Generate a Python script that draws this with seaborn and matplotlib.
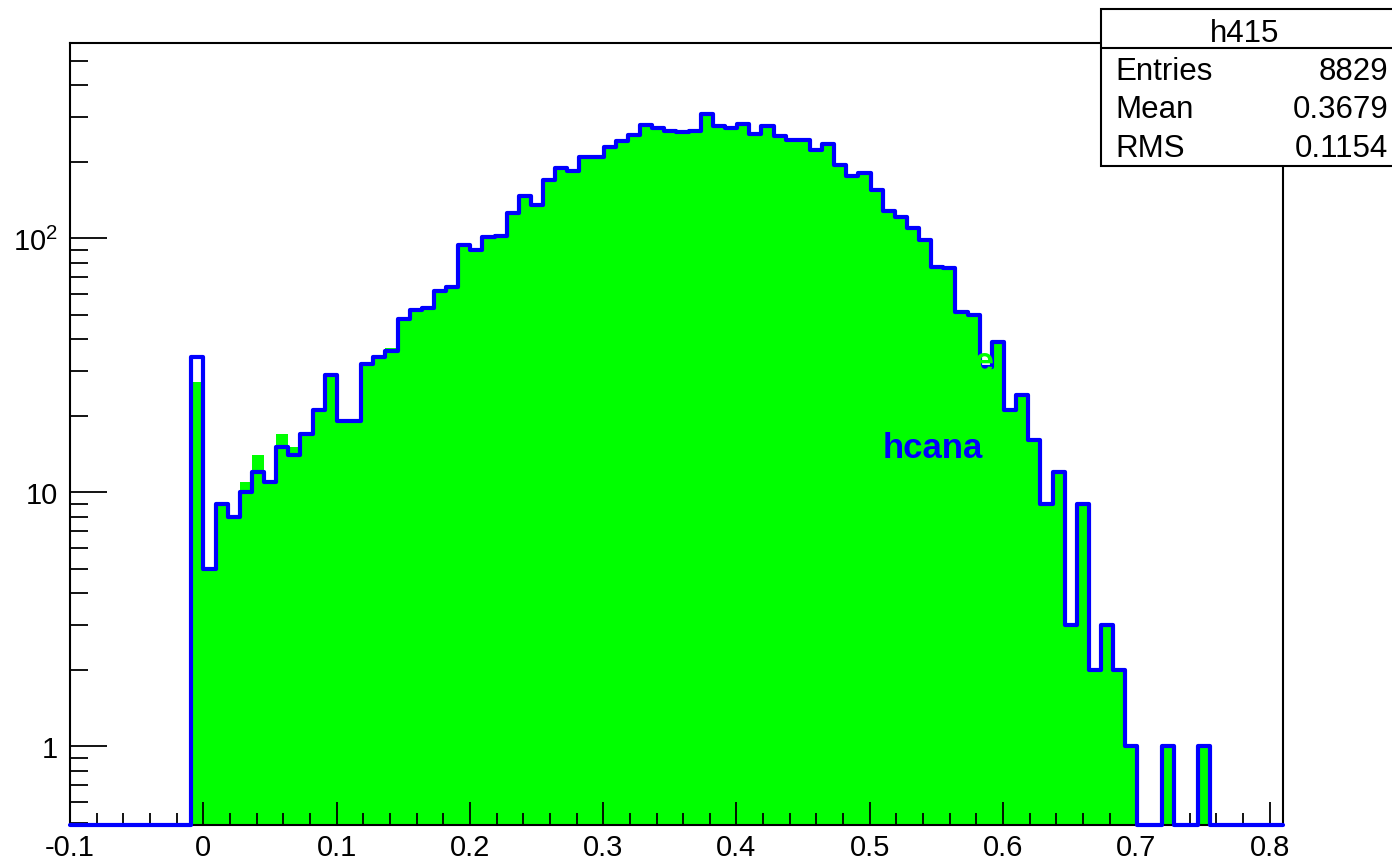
import numpy as np
import seaborn as sns
import matplotlib.pyplot as plt
from matplotlib.patches import Rectangle
from matplotlib.ticker import FixedLocator, MultipleLocator, FixedFormatter

# 100 bins from -0.1 to 0.81
N_BINS = 100
X_RANGE = (-0.1, 0.81)

# hcana (blue outline), counts per bin
HCANA = [0] * 10 + [
    34, 5, 9, 8, 10, 12, 11, 15, 14, 17,
    21, 29, 19, 19, 32, 34, 36, 48, 52, 53,
    62, 64, 94, 90, 101, 102, 125, 146, 135, 169,
    189, 184, 208, 208, 228, 241, 254, 278, 271, 264,
    261, 264, 308, 276, 271, 281, 257, 276, 252, 243,
    243, 222, 234, 194, 175, 180, 155, 128, 121, 110,
    98, 77, 76, 51, 50, 31, 39, 21, 24, 16,
    9, 12, 3, 9, 2, 3, 2, 1, 0, 0,
    1, 0, 0, 1, 0, 0, 0, 0, 0, 0,
]

# engine (green fill), counts per bin
ENGINE = [0] * 10 + [
    27, 5, 9, 8, 11, 14, 11, 17, 15, 17,
    21, 29, 19, 19, 32, 34, 37, 48, 52, 53,
    62, 64, 94, 90, 101, 102, 125, 146, 135, 169,
    189, 184, 208, 208, 228, 241, 254, 278, 271, 264,
    261, 264, 308, 276, 271, 281, 257, 276, 252, 243,
    243, 222, 234, 194, 175, 180, 155, 128, 121, 110,
    98, 77, 76, 51, 50, 31, 39, 21, 24, 16,
    9, 12, 3, 9, 2, 3, 2, 1, 0, 0,
    1, 0, 0, 1, 0, 0, 0, 0, 0, 0,
]

STATS_NAME = 'h415'
STATS_ROWS = [('Entries', '8829'), ('Mean', '0.3679'), ('RMS', '0.1154')]

X_TICKS = [-0.1, 0, 0.1, 0.2, 0.3, 0.4, 0.5, 0.6, 0.7, 0.8]
Y_TICKS = [1, 10, 100]
Y_LABELS = ['1', '10', '$10^{2}$']

YMIN, YMAX = 0.489, 586

sns.set_style('white')
plt.rcParams['font.family'] = ['Liberation Sans', 'DejaVu Sans']
plt.rcParams['mathtext.fontset'] = 'custom'
plt.rcParams['mathtext.rm'] = 'Liberation Sans'
plt.rcParams['mathtext.default'] = 'regular'
plt.rcParams['text.color'] = 'black'

edges = np.linspace(X_RANGE[0], X_RANGE[1], N_BINS + 1)
centers = (edges[:-1] + edges[1:]) / 2
engine_w = np.asarray(ENGINE, dtype=float)
hcana_w = np.maximum(np.asarray(HCANA, dtype=float), YMIN)  # empty bins sit on the axis floor

fig = plt.figure(figsize=(13.92, 8.62), dpi=100)
ax = fig.add_axes([70 / 1392, 1 - 826 / 862, (1283 - 70) / 1392, (826 - 44) / 862])
ax.set_axisbelow(False)

sns.histplot(x=centers, weights=engine_w, bins=N_BINS, binrange=X_RANGE, element='step',
             fill=True, color='#00ff00', alpha=1, linewidth=0, ax=ax)
sns.histplot(x=centers, weights=hcana_w, bins=N_BINS, binrange=X_RANGE, element='step',
             fill=False, color='#0000ff', linewidth=3.0, ax=ax)
for line in ax.lines:
    line.set_clip_on(False)
    line.set_zorder(3)

ax.set_yscale('log')
ax.set_xlim(*X_RANGE)
ax.set_ylim(YMIN, YMAX)
ax.set_xlabel('')
ax.set_ylabel('')

ax.xaxis.set_major_locator(FixedLocator(X_TICKS))
ax.xaxis.set_major_formatter(FixedFormatter([f'{v:g}' for v in X_TICKS]))
ax.xaxis.set_minor_locator(MultipleLocator(0.02))
ax.yaxis.set_major_locator(FixedLocator(Y_TICKS))
ax.yaxis.set_major_formatter(FixedFormatter(Y_LABELS))
minor_y = [m * 10 ** e for e in (-1, 0, 1, 2) for m in range(2, 10)]
ax.yaxis.set_minor_locator(FixedLocator(minor_y))
ax.yaxis.set_minor_formatter(FixedFormatter([''] * len(minor_y)))

ax.tick_params(axis='both', which='both', direction='in', top=False, right=False,
               bottom=True, left=True, color='black', labelcolor='black',
               labelsize=21, width=1.3)
ax.tick_params(axis='x', which='major', length=16.5, pad=6)
ax.tick_params(axis='x', which='minor', length=8.5)
ax.tick_params(axis='y', which='major', length=26.5, pad=9)
ax.tick_params(axis='y', which='minor', length=13)
for s in ax.spines.values():
    s.set_visible(True)
    s.set_color('black')
    s.set_linewidth(1.5)

ax.text(0.51, 29.9, 'engine', color='#00ff00', fontsize=25, fontweight='bold',
        va='baseline', ha='left', zorder=4)
ax.text(0.51, 13.7, 'hcana', color='#0000ff', fontsize=25, fontweight='bold',
        va='baseline', ha='left', zorder=4)

# stats box
fig.patches.append(Rectangle((1101 / 1392, 1 - 167 / 862), 0.3, (167 - 10) / 862,
                             transform=fig.transFigure, facecolor='white',
                             edgecolor='black', linewidth=1.5, zorder=5))
fig.lines.append(plt.Line2D([1101 / 1392, 1.0], [1 - 49 / 862] * 2,
                            transform=fig.transFigure, color='black', linewidth=1.5, zorder=6))
fig.text(1245 / 1392, 1 - 42 / 862, STATS_NAME, ha='center', va='baseline',
         fontsize=22.5, color='black', zorder=7)
for i, (name, val) in enumerate(STATS_ROWS):
    yb = 1 - (80 + 38.5 * i) / 862
    fig.text(1115 / 1392, yb, name, ha='left', va='baseline', fontsize=22.5, color='black', zorder=7)
    fig.text(1388 / 1392, yb, val, ha='right', va='baseline', fontsize=22.5, color='black', zorder=7)

fig.savefig('out.png', dpi=100)
